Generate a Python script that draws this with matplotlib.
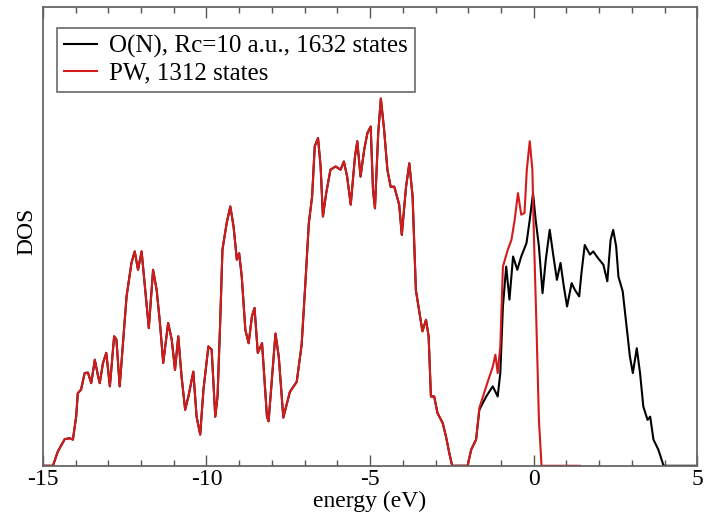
import numpy as np
import matplotlib
matplotlib.use("Agg")
import matplotlib.pyplot as plt
from matplotlib.ticker import MultipleLocator

plt.rcParams['font.family'] = ['Liberation Serif', 'DejaVu Serif']
plt.rcParams['axes.unicode_minus'] = False

# shared part of the DOS (both calculations agree below about -1.8 eV)
energy_common = [-15.0, -14.69, -14.54, -14.33, -14.18, -14.08, -13.98, -13.93, -13.83, -13.72,
                 -13.62, -13.52, -13.41, -13.31, -13.26, -13.16, -13.06, -12.95, -12.82, -12.75,
                 -12.65, -12.55, -12.44, -12.29, -12.19, -12.09, -11.98, -11.88, -11.76, -11.63,
                 -11.52, -11.42, -11.32, -11.17, -11.06, -10.96, -10.86, -10.76, -10.65, -10.55,
                 -10.40, -10.30, -10.19, -10.09, -9.94, -9.84, -9.73, -9.66, -9.58, -9.51,
                 -9.38, -9.27, -9.17, -9.07, -9.00, -8.92, -8.81, -8.71, -8.61, -8.53,
                 -8.43, -8.30, -8.15, -8.10, -7.89, -7.79, -7.65, -7.45, -7.24, -7.09,
                 -6.97, -6.87, -6.77, -6.69, -6.59, -6.51, -6.44, -6.34, -6.21, -6.05,
                 -5.90, -5.80, -5.70, -5.59, -5.46, -5.39, -5.29, -5.18, -5.08, -4.98,
                 -4.91, -4.85, -4.75, -4.67, -4.57, -4.47, -4.37, -4.26, -4.11, -4.03,
                 -3.90, -3.80, -3.70, -3.60, -3.44, -3.40, -3.29, -3.21, -3.14, -3.04,
                 -2.94, -2.78, -2.68, -2.58, -2.49, -2.02, -1.91, -1.76]
dos_common = [0.0, 0.0, 3.1, 5.8, 6.0, 5.7, 10.7, 15.8, 16.6, 20.2,
              20.3, 18.0, 23.1, 19.5, 18.0, 22.4, 24.6, 17.3, 28.2, 27.5,
              17.3, 26.7, 36.9, 44.2, 46.7, 42.7, 46.7, 39.1, 30.0, 42.7,
              38.3, 31.1, 22.4, 31.1, 27.5, 20.9, 28.2, 19.5, 12.2, 15.1,
              20.5, 10.7, 6.8, 16.6, 26.0, 25.3, 10.7, 15.1, 31.1, 47.1,
              52.9, 56.5, 52.1, 44.9, 46.3, 41.2, 29.6, 26.7, 32.5, 34.4,
              24.6, 26.7, 10.7, 9.7, 28.8, 23.8, 10.5, 16.1, 18.3, 26.4,
              40.5, 52.9, 58.7, 69.6, 71.4, 65.2, 54.3, 59.4, 64.5, 65.2,
              64.5, 66.3, 63.0, 56.9, 67.4, 70.7, 63.0, 68.8, 72.5, 73.9,
              60.1, 56.1, 72.5, 80.0, 73.2, 64.5, 60.8, 60.8, 56.9, 50.3,
              60.8, 65.9, 58.7, 38.3, 31.1, 29.3, 31.8, 28.2, 15.1, 15.1,
              11.5, 9.3, 6.4, 2.8, 0.0, 0.0, 3.5, 5.7]

# O(N) calculation above -1.8 eV
energy_on = [-1.66, -1.45, -1.25, -1.10, -1.02, -0.94, -0.84, -0.74, -0.63, -0.50,
             -0.38, -0.22, -0.12, -0.02, 0.06, 0.16, 0.27, 0.37, 0.49, 0.59,
             0.71, 0.82, 0.92, 1.02, 1.16, 1.26, 1.39, 1.46, 1.56, 1.72,
             1.82, 1.97, 2.13, 2.25, 2.35, 2.43, 2.52, 2.59, 2.72, 2.84,
             2.94, 3.03, 3.15, 3.25, 3.35, 3.48, 3.56, 3.66, 3.81, 3.97, 5.0]
dos_on = [12.2, 15.1, 17.3, 15.1, 20.2, 34.7, 43.4, 36.2, 45.6, 42.7,
          45.6, 48.5, 53.6, 59.4, 53.6, 47.8, 37.6, 44.9, 51.4, 46.3,
          40.5, 44.2, 39.1, 34.7, 39.8, 38.3, 36.9, 42.0, 48.1, 46.0,
          46.7, 45.2, 43.8, 40.2, 49.2, 51.4, 47.8, 41.2, 38.0, 30.3,
          23.8, 20.2, 25.6, 20.2, 12.9, 10.0, 10.7, 5.7, 3.5, 0.0, 0.0]

# plane-wave calculation above -1.8 eV
energy_pw = [-1.66, -1.45, -1.25, -1.17, -1.10, -1.02, -0.94, -0.79, -0.68, -0.58,
             -0.48, -0.38, -0.28, -0.21, -0.12, -0.04, 0.01, 0.08, 0.16, 0.24, 1.41]
dos_pw = [12.6, 17.3, 21.6, 24.2, 20.2, 26.0, 43.4, 47.1, 49.2, 53.6,
          59.4, 54.7, 55.1, 64.5, 70.7, 64.5, 49.2, 31.8, 10.0, 0.0, 0.0]

labels = ['O(N), Rc=10 a.u., 1632 states', 'PW, 1312 states']

fig = plt.figure(figsize=(7.13, 5.21), dpi=100)
ax = fig.add_axes([0.060, 0.106, 0.918, 0.881])

ax.plot(energy_common + energy_on, dos_common + dos_on, color='black', lw=1.5, label=labels[0])
ax.plot(energy_common + energy_pw, dos_common + dos_pw, color='#d41a1a', lw=1.5, label=labels[1])

ax.set_xlim(-15, 5)
ax.set_ylim(0, 100)
ax.xaxis.set_major_locator(MultipleLocator(5))
ax.xaxis.set_minor_locator(MultipleLocator(1))
ax.tick_params(axis='x', which='both', direction='in', top=True, colors='#555555',
               labelcolor='black', labelsize=17, pad=2)
ax.tick_params(axis='x', which='major', length=8, width=1)
ax.tick_params(axis='x', which='minor', length=4, width=1)
ax.set_yticks([])
for s in ax.spines.values():
    s.set_color('#666666')
    s.set_linewidth(1.3)

ax.set_xlabel('energy (eV)', fontsize=17, labelpad=1)
ax.set_ylabel('DOS', fontsize=17)
ax.yaxis.set_label_coords(-0.009, 0.51)

leg = ax.legend(loc='upper left', bbox_to_anchor=(0.021, 0.954), borderaxespad=0,
                fontsize=18, frameon=True, fancybox=False, handlelength=1.3,
                handletextpad=0.5, borderpad=0.3, labelspacing=0.15)
leg.get_frame().set_edgecolor('#444444')
leg.get_frame().set_linewidth(1.2)

fig.savefig('out.png', dpi=100)
